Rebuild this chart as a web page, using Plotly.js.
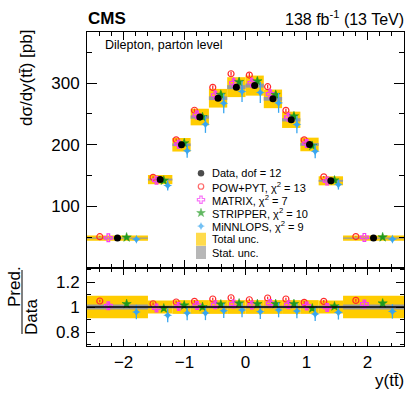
<!DOCTYPE html>
<html><head><meta charset="utf-8">
<script src="https://cdn.plot.ly/plotly-3.0.1.min.js"></script>
<style>html,body{margin:0;padding:0;background:#fff;}#plot{width:407px;height:394px;}</style>
</head><body><div id="plot"></div>
<script>
// ---------------- data ----------------
const binEdges = [-2.6, -1.6, -1.2, -0.9, -0.6, -0.3, 0, 0.3, 0.6, 0.9, 1.2, 1.6, 2.6];
const dataXsec = [48.5, 143.5, 200, 245, 275.5, 293.5, 296, 274.5, 240.5, 200.5, 141.5, 48.5];
const totalRelUnc = [0.09, 0.052, 0.055, 0.055, 0.055, 0.055, 0.055, 0.055, 0.055, 0.055, 0.052, 0.09];
const statRelUnc = [0.02, 0.011, 0.011, 0.011, 0.011, 0.011, 0.011, 0.011, 0.011, 0.011, 0.011, 0.02];
const powpytRatio   = [1.048, 1.026, 1.040, 1.045, 1.064, 1.074, 1.058, 1.072, 1.064, 1.037, 1.045, 1.053];
const matrixRatio   = [1.010, 0.992, 1.005, 1.013, 1.018, 1.024, 1.016, 1.029, 1.018, 1.008, 0.997, 1.024];
const stripperRatio = [1.024, 0.989, 1.013, 1.000, 1.021, 1.029, 1.024, 1.024, 1.024, 0.989, 1.005, 1.029];
const minnlopsRatio = [0.960, 0.933, 0.952, 0.952, 0.970, 0.976, 0.962, 0.976, 0.968, 0.944, 0.957, 0.965];
const powpytRelUnc   = [0.01, 0.01, 0.01, 0.01, 0.01, 0.01, 0.01, 0.01, 0.01, 0.01, 0.01, 0.01];
const matrixRelUnc   = [0.03, 0.03, 0.03, 0.03, 0.03, 0.03, 0.03, 0.03, 0.03, 0.03, 0.03, 0.03];
const stripperRelUnc = [0.02, 0.02, 0.02, 0.02, 0.02, 0.02, 0.02, 0.02, 0.02, 0.02, 0.02, 0.02];
const minnlopsRelUnc = [0.06, 0.06, 0.06, 0.06, 0.06, 0.06, 0.06, 0.06, 0.06, 0.06, 0.06, 0.06];
const seriesNames = ["POW+PYT", "MATRIX", "STRIPPER", "MiNNLOPS"];
const seriesChi2 = [13, 7, 10, 9];
const dataDof = 12;
const xTickVals = [-2, -1, 0, 1, 2];
const yTickVals = [100, 200, 300];
const yMinorTickVals = [50, 150, 250, 350];
const ratioTickVals = [0.8, 1, 1.2];

// ---------------- geometry helpers ----------------
const W = 407, H = 394, ML = 87, MR = 3, MT = 32, MB = 48;
const PW = W - ML - MR, PH = H - MT - MB;
const px = p => (p - ML) / PW;
const py = p => (H - MB - p) / PH;
const splitY = py(268);

const FONT = "Liberation Sans, Arial, Helvetica, sans-serif";
const centers = binEdges.slice(0, -1).map((e, i) => (e + binEdges[i + 1]) / 2);
const widths = binEdges.slice(0, -1).map((e, i) => binEdges[i + 1] - e);

const YELLOW = "#ffcc00", GRAY = "#999999";
const series = [
  {name: seriesNames[0], ratio: powpytRatio, rel: powpytRelUnc, off: -0.29, symbol: "circle-open", color: "#ff2a2a", size: 6, lw: 1.2},
  {name: seriesNames[1], ratio: matrixRatio, rel: matrixRelUnc, off: -0.15, symbol: "cross-open", color: "#f53df5", size: 6.5, lw: 1.2},
  {name: seriesNames[2], ratio: stripperRatio, rel: stripperRelUnc, off: 0.15, symbol: "star", color: "#1f9a1f", size: 7, lw: 0.5},
  {name: seriesNames[3], ratio: minnlopsRatio, rel: minnlopsRelUnc, off: 0.31, symbol: "star-diamond", color: "#39a6f0", size: 6.5, lw: 0},
];

const traces = [];
function bands(xa, ya, ref) {
  traces.push({type: "bar", xaxis: xa, yaxis: ya, x: centers, width: widths,
    base: ref.map((v, i) => v * (1 - totalRelUnc[i])), y: ref.map((v, i) => v * 2 * totalRelUnc[i]),
    marker: {color: YELLOW, line: {width: 0}}, hoverinfo: "skip", showlegend: false});
  traces.push({type: "bar", xaxis: xa, yaxis: ya, x: centers, width: widths,
    base: ref.map((v, i) => v * (1 - statRelUnc[i])), y: ref.map((v, i) => v * 2 * statRelUnc[i]),
    marker: {color: GRAY, line: {width: 0}}, hoverinfo: "skip", showlegend: false});
}
function preds(xa, ya, scale) {
  series.forEach(s => {
    const yv = s.ratio.map((r, i) => r * scale[i]);
    traces.push({type: "scatter", mode: "markers", xaxis: xa, yaxis: ya,
      x: centers.map((c, i) => c + s.off * widths[i]), y: yv,
      error_y: {type: "data", array: yv.map((v, i) => v * s.rel[i]), color: s.color, thickness: 1.3, width: 0},
      marker: {symbol: s.symbol, color: s.color, size: s.size, line: {color: s.color, width: s.lw}},
      hoverinfo: "skip", showlegend: false});
  });
}
const ones = dataXsec.map(() => 1);
bands("x", "y", dataXsec);
preds("x", "y", dataXsec);
traces.push({type: "scatter", mode: "markers", xaxis: "x", yaxis: "y", x: centers, y: dataXsec,
  marker: {symbol: "circle", color: "#000", size: 7}, hoverinfo: "skip", showlegend: false});
bands("x2", "y2", ones);
preds("x2", "y2", ones);

// legend keys
const legendLabels = ["Data, dof = " + dataDof]
  .concat(seriesNames.map((n, i) => n + ", \u03c7<sup>2</sup> = " + seriesChi2[i]))
  .concat(["Total unc.", "Stat. unc."]);
const keySymbols = ["circle"].concat(series.map(s => s.symbol)).concat(["square", "square"]);
const keyColors = ["#000"].concat(series.map(s => s.color)).concat([YELLOW, GRAY]);
const keySizes = [6.5].concat(series.map(s => s.size - 0.5)).concat([13, 13]);
const keyLw = [0].concat(series.map(s => s.lw)).concat([0, 0]);
traces.push({type: "scatter", mode: "markers", xaxis: "x3", yaxis: "y3",
  x: legendLabels.map(() => 0.5), y: legendLabels.map((_, i) => i),
  marker: {symbol: keySymbols, color: keyColors, size: keySizes, line: {color: keyColors, width: keyLw}},
  hoverinfo: "skip", showlegend: false});

const axCommon = {showline: true, linecolor: "#000", linewidth: 1, mirror: "ticks", ticks: "inside",
  tickcolor: "#000", showgrid: false, zeroline: false, fixedrange: true,
  tickfont: {family: FONT, size: 17, color: "#000"}};

const annotations = [];
function ann(text, x, y, xanchor, yanchor, size, extra) {
  annotations.push(Object.assign({text: text, xref: "paper", yref: "paper", x: px(x), y: py(y),
    xanchor: xanchor, yanchor: yanchor, showarrow: false, borderpad: 0,
    font: {family: FONT, size: size, color: "#000"}}, extra || {}));
}
ann("<b>CMS</b>", 87, 29, "left", "bottom", 17);
ann("138 fb<sup>-1</sup> (13 TeV)", 405, 29, "right", "bottom", 16);
ann("Dilepton, parton level", 104, 45, "left", "middle", 12.5);
ann("d\u03c3/dy(tt\u0304) [pb]", 27, 29, "center", "top", 17, {textangle: -90});
ann("y(tt\u0304)", 405, 380, "right", "middle", 17);
ann("Pred.", 14, 287, "center", "middle", 17, {textangle: -90});
ann("Data", 31, 317, "center", "middle", 17, {textangle: -90});
legendLabels.forEach((t, i) => {
  annotations.push({text: t, xref: "paper", yref: "y3", x: px(211), y: i, xanchor: "left", yanchor: "middle",
    showarrow: false, borderpad: 0, font: {family: FONT, size: 11, color: "#000"}});
});

const layout = {
  width: W, height: H, margin: {l: ML, r: MR, t: MT, b: MB, pad: 0},
  paper_bgcolor: "#fff", plot_bgcolor: "rgba(0,0,0,0)", barmode: "overlay", showlegend: false,
  xaxis: Object.assign({}, axCommon, {domain: [0, 1], anchor: "y", range: [-2.6, 2.6], tickvals: xTickVals,
    showticklabels: false, ticklen: 8, minor: {ticks: "inside", ticklen: 4, dtick: 0.2, tick0: 0, tickcolor: "#000"}}),
  yaxis: Object.assign({}, axCommon, {domain: [splitY, 1], anchor: "x", range: [0, 383], tickvals: yTickVals,
    ticklen: 10, ticklabelstandoff: 3, minor: {ticks: "inside", ticklen: 5, tickvals: yMinorTickVals, tickcolor: "#000"}}),
  xaxis2: Object.assign({}, axCommon, {domain: [0, 1], anchor: "y2", range: [-2.6, 2.6], tickvals: xTickVals,
    ticklen: 7, ticklabelstandoff: 1, minor: {ticks: "inside", ticklen: 3.5, dtick: 0.2, tick0: 0, tickcolor: "#000"}}),
  yaxis2: Object.assign({}, axCommon, {domain: [0, splitY], anchor: "x2", range: [0.688, 1.312], tickvals: ratioTickVals,
    ticktext: ratioTickVals.map(String), ticklen: 8, ticklabelstandoff: 3,
    minor: {ticks: "inside", ticklen: 4, dtick: 0.1, tick0: 0, tickcolor: "#000"}}),
  xaxis3: {domain: [px(196), px(206)], anchor: "y3", range: [0, 1], visible: false, fixedrange: true},
  yaxis3: {domain: [py(259.1), py(166.7)], anchor: "x3", range: [6.5, -0.5], visible: false, fixedrange: true},
  shapes: [
    {type: "line", xref: "paper", x0: 0, x1: 1, yref: "y2", y0: 1, y1: 1, line: {color: "#000", width: 1.3}},
    {type: "line", xref: "paper", x0: px(22), x1: px(22), yref: "paper", y0: py(270), y1: py(334), line: {color: "#000", width: 1}}
  ],
  annotations: annotations
};
Plotly.newPlot("plot", traces, layout, {displayModeBar: false, staticPlot: true});
</script></body></html>
